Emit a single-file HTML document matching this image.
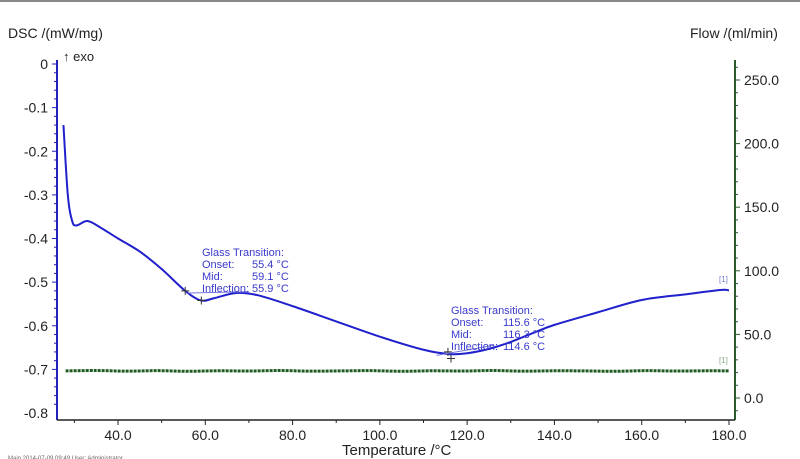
<!DOCTYPE html>
<html><head><meta charset="utf-8"><style>
body{margin:0;background:#fff;}
svg{display:block;font-family:"Liberation Sans",sans-serif;}
</style></head><body>
<svg id="chart" width="800" height="459">
<line x1="0" y1="1" x2="800" y2="1" stroke="#888" stroke-width="2"/>
<text x="8" y="38" font-size="14" fill="#222">DSC /(mW/mg)</text>
<text x="690" y="38" font-size="14" fill="#222">Flow /(ml/min)</text>
<text x="63" y="61" font-size="13" fill="#222">↑ exo</text>
<text x="342" y="455" font-size="15" fill="#222">Temperature /°C</text>
<text x="8" y="460" font-size="6" fill="#666">Main    2014-07-09 09:49    User: Administrator</text>
<g id="axes"></g>
<g id="series"></g>
<g fill="#3a3acc" font-size="11">
<text x="202" y="256">Glass Transition:</text>
<text x="202" y="268">Onset:</text><text x="252" y="268">55.4 °C</text>
<text x="202" y="280">Mid:</text><text x="252" y="280">59.1 °C</text>
<text x="202" y="292">Inflection:</text><text x="252" y="292">55.9 °C</text>
</g>
<g fill="#3a3acc" font-size="11">
<text x="451" y="314">Glass Transition:</text>
<text x="451" y="326">Onset:</text><text x="503" y="326">115.6 °C</text>
<text x="451" y="338">Mid:</text><text x="503" y="338">116.3 °C</text>
<text x="451" y="350">Inflection:</text><text x="503" y="350">114.6 °C</text>
</g>
<text x="719" y="282" font-size="8" fill="#7777cc">[1]</text>
<text x="719" y="363" font-size="8" fill="#88aa88">[1]</text>
</svg>
<script>
const temps=[27.5,28.5,29.5,30.5,33,36,40,45,50,55.4,59,62,67,72,80,90,100,110,116,120,125,130,135,140,150,160,170,178,180];
const dscVals=[-0.14,-0.30,-0.36,-0.37,-0.36,-0.375,-0.40,-0.43,-0.47,-0.52,-0.542,-0.537,-0.525,-0.53,-0.555,-0.59,-0.625,-0.655,-0.665,-0.663,-0.653,-0.637,-0.617,-0.598,-0.569,-0.541,-0.528,-0.518,-0.519];
const flowTemps=[28,35,42,49,56,63,70,77,84,91,98,105,112,119,126,133,140,147,154,161,168,175,180];
const flowVals=[21.3,21.6,21.1,21.5,21.0,21.4,21.2,21.6,21.1,21.3,21.5,21.0,21.4,21.2,21.6,21.1,21.4,21.3,21.0,21.5,21.2,21.4,21.3];
const xTicks=[40,60,80,100,120,140,160,180];
const yTicks=[0,-0.1,-0.2,-0.3,-0.4,-0.5,-0.6,-0.7,-0.8];
const y2Ticks=[0,50,100,150,200,250];
const tgMarks=[[55.4,-0.52],[59.1,-0.542],[115.6,-0.66],[116.3,-0.675]];

const X=t=>118+(t-40)*(611/140);
const Y=v=>64-v*436.25;
const Y2=f=>398-f*(318/250);
const NS='http://www.w3.org/2000/svg';
function mk(tag,attrs,parent,text){const e=document.createElementNS(NS,tag);for(const k in attrs)e.setAttribute(k,attrs[k]);if(text!==undefined)e.textContent=text;parent.appendChild(e);return e;}
const axes=document.getElementById('axes'),series=document.getElementById('series');
let e;
e=mk('line',{x1:57,y1:60,x2:57,y2:420,stroke:'#2222bb','stroke-width':2},axes);


e=mk('line',{x1:735,y1:60,x2:735,y2:420,stroke:'#2d5a2d','stroke-width':2},axes);


e=mk('line',{x1:57,y1:420,x2:735,y2:420,stroke:'#222','stroke-width':1.5},axes);


for(let v=0;v>=-0.8;v-=0.02){const y=Y(v);const major=Math.abs(Math.round(v*10)-v*10)<1e-6;mk('line',{x1:major?52:54,y1:y,x2:57,y2:y,stroke:'#2222bb','stroke-width':1},axes);}
yTicks.forEach(v=>{e=mk('text',{x:48,y:Y(v)+5,'font-size':14,'text-anchor':'end',fill:'#222'},axes,v===0?'0':v.toFixed(1));

});
for(let f=-10;f<=260;f+=10){const y=Y2(f);mk('line',{x1:735,y1:y,x2:f%50===0?740:738,y2:y,stroke:'#2d5a2d'},axes);}
y2Ticks.forEach(f=>{e=mk('text',{x:744,y:Y2(f)+5,'font-size':14,fill:'#222'},axes,f.toFixed(1));

});
for(let t=30;t<=180;t+=10){mk('line',{x1:X(t),y1:420,x2:X(t),y2:t%20===0?425:423,stroke:'#222'},axes);}
xTicks.forEach(t=>{e=mk('text',{x:X(t),y:440,'font-size':14,'text-anchor':'middle',fill:'#222'},axes,t.toFixed(1));

});
function smooth(pts){let d='M'+pts[0][0]+','+pts[0][1];for(let i=0;i<pts.length-1;i++){const p0=pts[Math.max(0,i-1)],p1=pts[i],p2=pts[i+1],p3=pts[Math.min(pts.length-1,i+2)];const c1=[p1[0]+(p2[0]-p0[0])/6,p1[1]+(p2[1]-p0[1])/6],c2=[p2[0]-(p3[0]-p1[0])/6,p2[1]-(p3[1]-p1[1])/6];d+=' C'+c1+' '+c2+' '+p2;}return d;}
e=mk('path',{d:smooth(flowTemps.map((t,i)=>[X(t),Y2(flowVals[i])])),fill:'none',stroke:'#1f5a1f','stroke-width':3,'stroke-dasharray':'3 1'},series);


e=mk('path',{d:smooth(temps.map((t,i)=>[X(t),Y(dscVals[i])])),fill:'none',stroke:'#2020cc','stroke-width':2},series);


tgMarks.forEach(m=>{const x=X(m[0]),y=Y(m[1]);
e=mk('path',{d:`M${x-4},${y}H${x+4}M${x},${y-4}V${y+4}`,stroke:'#333','stroke-width':1},series);

});
e=mk('line',{x1:X(56),y1:Y(-0.525),x2:X(70),y2:Y(-0.522),stroke:'#7777dd'},series);


e=mk('line',{x1:X(113),y1:Y(-0.668),x2:X(126),y2:Y(-0.645),stroke:'#7777dd'},series);


</script>
</body></html>
